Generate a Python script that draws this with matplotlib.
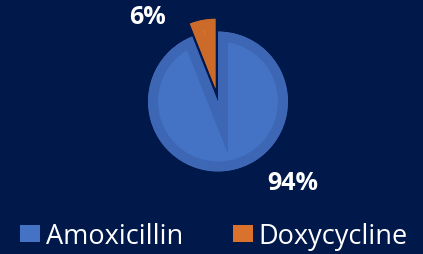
import matplotlib.pyplot as plt
from matplotlib.patches import Patch

# --- Data ---
drugs = ["Amoxicillin", "Doxycycline"]
shares = [94, 6]
pct_labels = ["94%", "6%"]

face_colors = ["#4472C4", "#D8722C"]
bevel_colors = ["#3D66B4", "#CC6A2A"]
bg = "#01184A"

plt.rcParams['font.family'] = ['Open Sans', 'DejaVu Sans']

W, H = 423, 255
fig = plt.figure(figsize=(W / 100, H / 100), dpi=100, facecolor=bg)
ax = fig.add_axes([0, 0, 1, 1])
ax.set_facecolor(bg)

# explode is in data units here (1 unit = 1 px)
wedges, _ = ax.pie(shares, colors=face_colors, startangle=90, counterclock=False,
                   explode=[0, 13], center=(218, H - 102.5), radius=70,
                   frame=False, wedgeprops=dict(linewidth=0))

# bevel: thick darker edge, clipped to the wedge itself
for w, bc in zip(wedges, bevel_colors):
    w.set_edgecolor(bc)
    w.set_linewidth(14.4)
    w.set_clip_on(True)
    w.set_clip_path(w)

ax.set_xlim(0, W)
ax.set_ylim(0, H)
ax.set_aspect('auto')
ax.axis('off')

# --- Labels ---
ax.text(293, H - 183, pct_labels[0], color="white", fontsize=18, fontweight="bold",
        ha="center", va="center")
ax.text(147, H - 17, pct_labels[1], color="white", fontsize=18, fontweight="bold",
        ha="center", va="center")

handles = [Patch(facecolor=c, edgecolor="none") for c in face_colors]
leg = fig.legend(handles, drugs, loc="center", bbox_to_anchor=(214 / W, 1 - 237 / H),
                 ncol=2, frameon=False, fontsize=19.5, handlelength=0.75, handleheight=0.62,
                 handletextpad=0.2, columnspacing=1.85, borderpad=0)
for t in leg.get_texts():
    t.set_color("white")

fig.savefig("out.png", dpi=100, facecolor=bg)
